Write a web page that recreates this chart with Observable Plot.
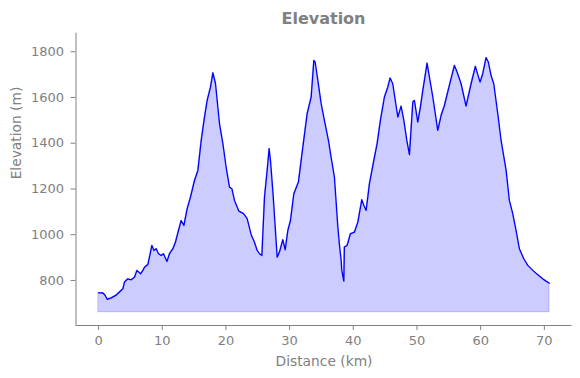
<!DOCTYPE html>
<html><head><meta charset="utf-8">
<script src="https://cdn.jsdelivr.net/npm/d3@7"></script>
<script src="https://cdn.jsdelivr.net/npm/@observablehq/plot@0.6"></script>
<style>
html,body{margin:0;padding:0;background:#fff;font-family:"DejaVu Sans",sans-serif}
#wrap{width:580px;height:378px;overflow:hidden}
#title{height:27px;padding:5px 8.5px 0 75.5px;line-height:28px;text-align:center;font-weight:bold;font-size:16px;color:#808080}
</style></head><body>
<div id="wrap"><div id="title">Elevation</div><div id="chart"></div></div>
<script>
const distanceKm = [0,0.7,1.05,1.37,2.0,2.78,3.83,4.08,4.6,5.13,5.65,6.03,6.6,6.97,7.22,7.75,8.0,8.38,8.7,9.06,9.42,9.84,10.2,10.74,11.15,11.68,12.09,12.56,12.98,13.4,13.92,14.44,15.07,15.6,16.12,16.64,17.06,17.58,17.96,18.37,19.0,19.53,20.04,20.56,20.94,21.35,22.04,22.77,23.34,23.97,24.49,24.91,25.27,25.65,26.06,26.48,26.79,27.0,27.42,28.05,28.41,28.94,29.31,29.73,30.14,30.67,31.39,32.08,32.76,33.39,33.81,34.01,34.44,34.96,35.47,36.1,36.52,37.04,37.58,37.89,38.1,38.2,38.52,38.6,39.04,39.55,40.18,40.72,41.34,41.66,42.02,42.54,43.23,43.74,44.26,44.89,45.42,45.79,46.2,47.0,47.51,47.94,48.41,48.82,49.35,49.6,50.13,50.54,50.92,51.59,51.96,52.49,53.27,53.79,54.31,55.09,55.88,56.3,56.93,57.71,58.5,59.17,59.91,60.33,60.85,61.21,61.64,62.06,62.69,63.21,64.0,64.51,65.04,65.56,66.08,66.77,67.4,68.18,68.97,69.75,70.27,70.8];
const elevationM = [746,745,734,717,724,736,764,793,807,803,814,844,829,844,858,870,902,953,931,939,917,909,917,883,917,939,968,1019,1062,1040,1114,1164,1237,1281,1412,1514,1587,1645,1708,1660,1485,1398,1295,1208,1201,1150,1103,1092,1070,1000,967,931,917,909,1164,1281,1376,1325,1172,902,924,978,934,1019,1062,1179,1230,1383,1529,1602,1762,1755,1675,1573,1500,1412,1339,1252,1033,939,887,844,797,946,953,1004,1011,1055,1153,1128,1106,1223,1325,1398,1500,1602,1645,1685,1660,1514,1562,1500,1412,1350,1580,1587,1492,1558,1631,1750,1689,1602,1456,1521,1565,1653,1740,1711,1660,1562,1660,1736,1667,1704,1774,1755,1696,1660,1529,1412,1281,1150,1092,1019,939,895,866,844,825,807,797,788];
const xTicks = [0,10,20,30,40,50,60,70];
const yTicks = [800,1000,1200,1400,1600,1800];
const baseElevation = 661;
const xLabel = "Distance (km)";
const yLabel = "Elevation (m)";

const data = distanceKm.map((d, i) => ({d, e: elevationM[i]}));
const xMax = d3.max(distanceKm);
const xDomain = [-0.05 * xMax, xMax * 1.05];
const yDomain = [603, 1881];
const gray = "#808080";

const chart = Plot.plot({
  width: 580,
  height: 346,
  marginLeft: 75.5,
  marginRight: 8.5,
  marginTop: 0.7,
  marginBottom: 53,
  style: {fontFamily: "DejaVu Sans", fontSize: "13px", color: gray, background: "#fff"},
  x: {domain: xDomain, ticks: xTicks, tickSize: 5, tickPadding: 5, tickFormat: d => String(d), label: null},
  y: {domain: yDomain, ticks: yTicks, tickSize: 5, tickPadding: 7, tickFormat: d => String(d), label: null},
  marks: [
    Plot.areaY(data, {x: "d", y1: () => baseElevation, y2: "e", fill: "blue", fillOpacity: 0.2, stroke: "blue", strokeOpacity: 0.2, strokeWidth: 1}),
    Plot.lineY(data, {x: "d", y: "e", stroke: "blue", strokeWidth: 1.3}),
    Plot.ruleX([xDomain[0]], {stroke: gray, strokeWidth: 1}),
    Plot.ruleY([yDomain[0]], {stroke: gray, strokeWidth: 1}),
    Plot.text([xLabel], {frameAnchor: "bottom", dy: 40.5, text: d => d, fontSize: 13.8, fill: gray}),
    Plot.text([yLabel], {frameAnchor: "left", dx: -59.5, rotate: -90, text: d => d, fontSize: 13.8, fill: gray})
  ]
});
document.getElementById("chart").appendChild(chart);
</script>
</body></html>
